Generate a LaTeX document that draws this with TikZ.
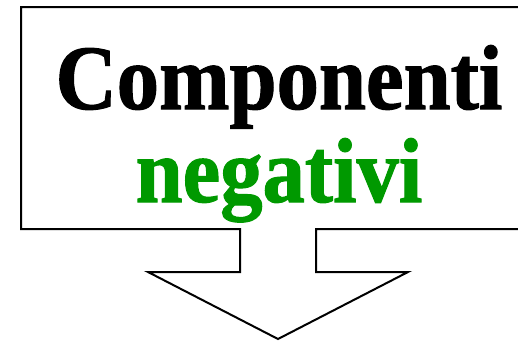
\documentclass[tikz,border=0pt]{standalone}
\usepackage{fontspec}
\setmainfont{Liberation Serif}
\newfontfamily\calloutfont[FakeStretch=0.92, BoldFeatures={FakeBold=1.2}]{Liberation Serif}
\definecolor{calloutGreen}{HTML}{009900}
\tikzset{
  calloutLine/.style={draw=black, line width=2pt, fill=white, line join=miter},
  calloutText/.style={font=\calloutfont\bfseries\fontsize{92}{92}\selectfont,
                      anchor=base, inner sep=0pt},
}

\begin{document}
\begin{tikzpicture}[x=1pt, y=-1pt]
    \useasboundingbox (0,0) rectangle (518,340);
    \clip (0,0) rectangle (518,340);

    % riquadro con freccia verso il basso
    \draw[calloutLine] (21,7) -- (540,7) -- (540,229) -- (316,229) -- (316,272)
        -- (408,272) -- (278,339) -- (148,272) -- (240,272) -- (240,229)
        -- (21,229) -- cycle;

    % testo
    \node[calloutText] (titolo) at (279,109) {Componenti};
    \node[calloutText, text=calloutGreen] (sottotitolo) at (279,202) {negativi};
\end{tikzpicture}
\end{document}
